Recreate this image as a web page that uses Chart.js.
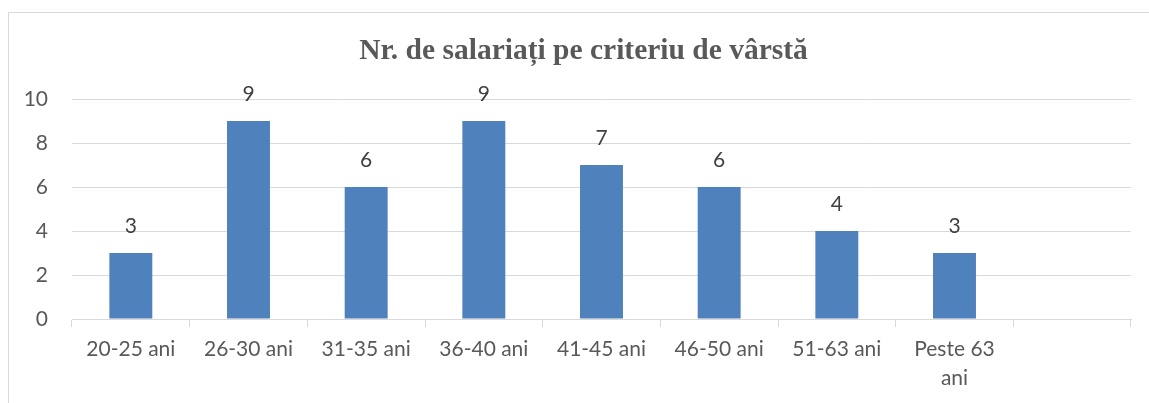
<!DOCTYPE html>
<html>
<head>
<meta charset="utf-8">
<script src="https://cdn.jsdelivr.net/npm/chart.js@4"></script>
<style>
    html, body { margin: 0; padding: 0; background: #fff; overflow: hidden; }
    #frame { position: absolute; left: 8px; top: 12px; width: 1200px; height: 500px; border: 1px solid #d9d9d9; }
    #wrap { position: absolute; left: 0; top: 0; width: 1149px; height: 403px; }
</style>
</head>
<body>
<div id="frame"></div>
<div id="wrap"><canvas id="chart"></canvas></div>
<script>
let categories = ["20-25 ani", "26-30 ani", "31-35 ani", "36-40 ani", "41-45 ani", "46-50 ani", "51-63 ani", ["Peste 63", "ani"], ""];
let employees = [3, 9, 6, 9, 7, 6, 4, 3, null];
let titleText = "Nr. de salariați pe criteriu de vârstă";

let textColor = "#595959";
let gridColor = "#d9d9d9";

// draws the value above each bar
let valueLabels = {
    id: "valueLabels",
    afterDatasetsDraw(chart) {
        let ctx = chart.ctx;
        let meta = chart.getDatasetMeta(0);
        ctx.save();
        ctx.font = "21px Lato";
        ctx.fillStyle = "#404040";
        ctx.textAlign = "center";
        ctx.textBaseline = "alphabetic";
        meta.data.forEach((bar, i) => {
            let v = employees[i];
            if (v == null) return;
            ctx.fillText(String(v), bar.x, bar.y - 20);
        });
        ctx.restore();
    }
};

// title in the reference sits a bit right of the canvas centre
let titleShift = {
    id: "titleShift",
    afterLayout(chart) {
        if (chart.titleBlock) chart.titleBlock.left = 36;
    }
};

function createChart() {
    let ctx = document.getElementById("chart");

    new Chart(ctx, {
        type: "bar",
        data: {
            labels: categories,
            datasets: [{
                data: employees,
                backgroundColor: "#4f81bd",
                categoryPercentage: 1,
                barPercentage: 0.365
            }]
        },
        options: {
            responsive: true,
            maintainAspectRatio: false,
            animation: false,
            layout: { padding: { left: 0, right: 18, top: 0, bottom: 0 } },
            plugins: {
                legend: { display: false },
                tooltip: { enabled: false },
                title: {
                    display: true,
                    text: titleText,
                    color: textColor,
                    font: { family: "'Liberation Serif', 'Times New Roman', serif", size: 29.5, weight: "bold", lineHeight: 1.2 },
                    padding: { top: 34, bottom: 29.6 }
                }
            },
            scales: {
                x: {
                    afterFit: scale => { scale.height = 84; },
                    grid: { offset: true, drawOnChartArea: false, tickLength: 8, color: gridColor },
                    border: { color: gridColor },
                    ticks: {
                        color: textColor,
                        font: { family: "Lato", size: 21, lineHeight: 1.36 },
                        padding: 8,
                        maxRotation: 0,
                        autoSkip: false
                    }
                },
                y: {
                    min: 0,
                    max: 10,
                    afterFit: scale => { scale.width = 72; },
                    grid: { drawTicks: false, color: gridColor },
                    border: { display: false },
                    ticks: {
                        stepSize: 2,
                        color: textColor,
                        font: { family: "Lato", size: 21 },
                        padding: 24
                    }
                }
            }
        },
        plugins: [valueLabels, titleShift]
    });
}

createChart();
</script>
</body>
</html>
